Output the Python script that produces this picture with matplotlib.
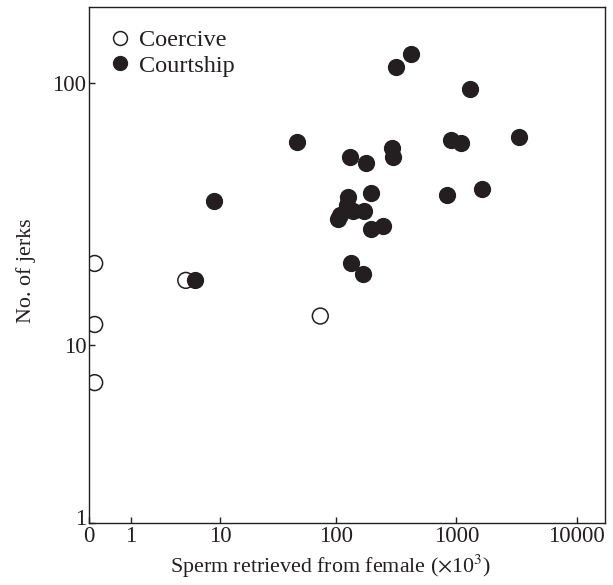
import numpy as np
import matplotlib
matplotlib.use("Agg")
import matplotlib.pyplot as plt
from matplotlib.lines import Line2D
from matplotlib.transforms import ScaledTranslation

# Data (sperm x10^3, no. of jerks)
coercive_x = [0, 0, 0, 4.7, 73.5]
coercive_y = [21.3, 12.2, 6.9, 18.3, 13.2]

courtship_x = [5.8, 132, 8.8, 47, 421, 315, 1301, 910, 1089, 3339,
               130, 177, 290, 300, 194, 838, 1646, 126, 123, 108,
               103, 138, 171, 195, 246, 167]
courtship_y = [18.3, 21.4, 36.8, 60.8, 127.8, 115, 95.1, 62, 60.6, 63.7,
               53.7, 50.8, 58, 53.5, 39.6, 38.7, 40.7, 38.1, 35.5, 32.5,
               31.4, 33.7, 33.7, 28.8, 29.6, 19.3]

x_ticks = [1, 10, 100, 1000, 10000]
x_ticklabels = ["1", "10", "100", "1000", "10000"]
y_ticks = [1, 10, 100]
y_ticklabels = ["1", "10", "100"]

XOFF = 1.0
YOFF = 1.7

def fx(x):
    return np.log10(np.maximum(np.asarray(x, dtype=float) + XOFF, 1e-12))

def fx_inv(v):
    return 10 ** np.asarray(v, dtype=float) - XOFF

def fy(y):
    return np.log10(np.maximum(np.asarray(y, dtype=float) + YOFF, 1e-12))

def fy_inv(v):
    return 10 ** np.asarray(v, dtype=float) - YOFF

plt.rcParams['font.family'] = ['Liberation Serif', 'DejaVu Serif']
plt.rcParams['mathtext.fontset'] = 'stix'

fig = plt.figure(figsize=(6.13, 5.85), dpi=100)
ax = fig.add_axes([89/613, 1 - 523/585, (605-89)/613, (523-7.3)/585])

ax.set_xscale('function', functions=(fx, fx_inv))
ax.set_yscale('function', functions=(fy, fy_inv))

xmin, xmax = -0.103, 17170
ymin, ymax = 1.0, 188.8
ax.set_xlim(xmin, xmax)
ax.set_ylim(ymin, ymax)

col = '#231f20'
ms = 130
ax.scatter(courtship_x, courtship_y, s=ms, facecolor=col, edgecolor=col,
           linewidth=1.0, zorder=3)
ax.scatter(coercive_x, coercive_y, s=ms, facecolor='none', edgecolor=col,
           linewidth=1.1, zorder=4)

ax.set_xticks([xmin] + x_ticks)
ax.set_xticklabels(["0"] + x_ticklabels)
ax.set_yticks(y_ticks)
ax.set_yticklabels(y_ticklabels)
ax.minorticks_off()
ax.tick_params(direction='in', length=4, width=1, colors=col, labelsize=16.5,
               pad=2)
for s in ax.spines.values():
    s.set_linewidth(1.0)
    s.set_color(col)

# lift the corner "1" label slightly so it clears the "0"
lbl1 = ax.get_yticklabels()[0]
lbl1.set_transform(lbl1.get_transform() +
                   ScaledTranslation(0, 4/72, fig.dpi_scale_trans))

ax.set_xlabel(r"Sperm retrieved from female ($\times$10$^3$)", fontsize=15.8,
              color=col)
ax.xaxis.set_label_coords(0.469, -0.058)
ax.set_ylabel("No. of jerks", fontsize=15.8, color=col)
ax.yaxis.set_label_coords(-0.102, 0.49)

handles = [
    Line2D([], [], marker='o', linestyle='none', markersize=10,
           markerfacecolor='none', markeredgecolor=col, markeredgewidth=1.1),
    Line2D([], [], marker='o', linestyle='none', markersize=10,
           markerfacecolor=col, markeredgecolor=col),
]
ax.legend(handles, ["Coercive", "Courtship"], loc='upper left',
          bbox_to_anchor=(0.0174, 0.976), frameon=False,
          fontsize=17.5, handletextpad=0.3, labelspacing=0.14,
          borderaxespad=0.0, borderpad=0.4, handlelength=1.0,
          labelcolor=col)

fig.savefig("out.png", dpi=100)
